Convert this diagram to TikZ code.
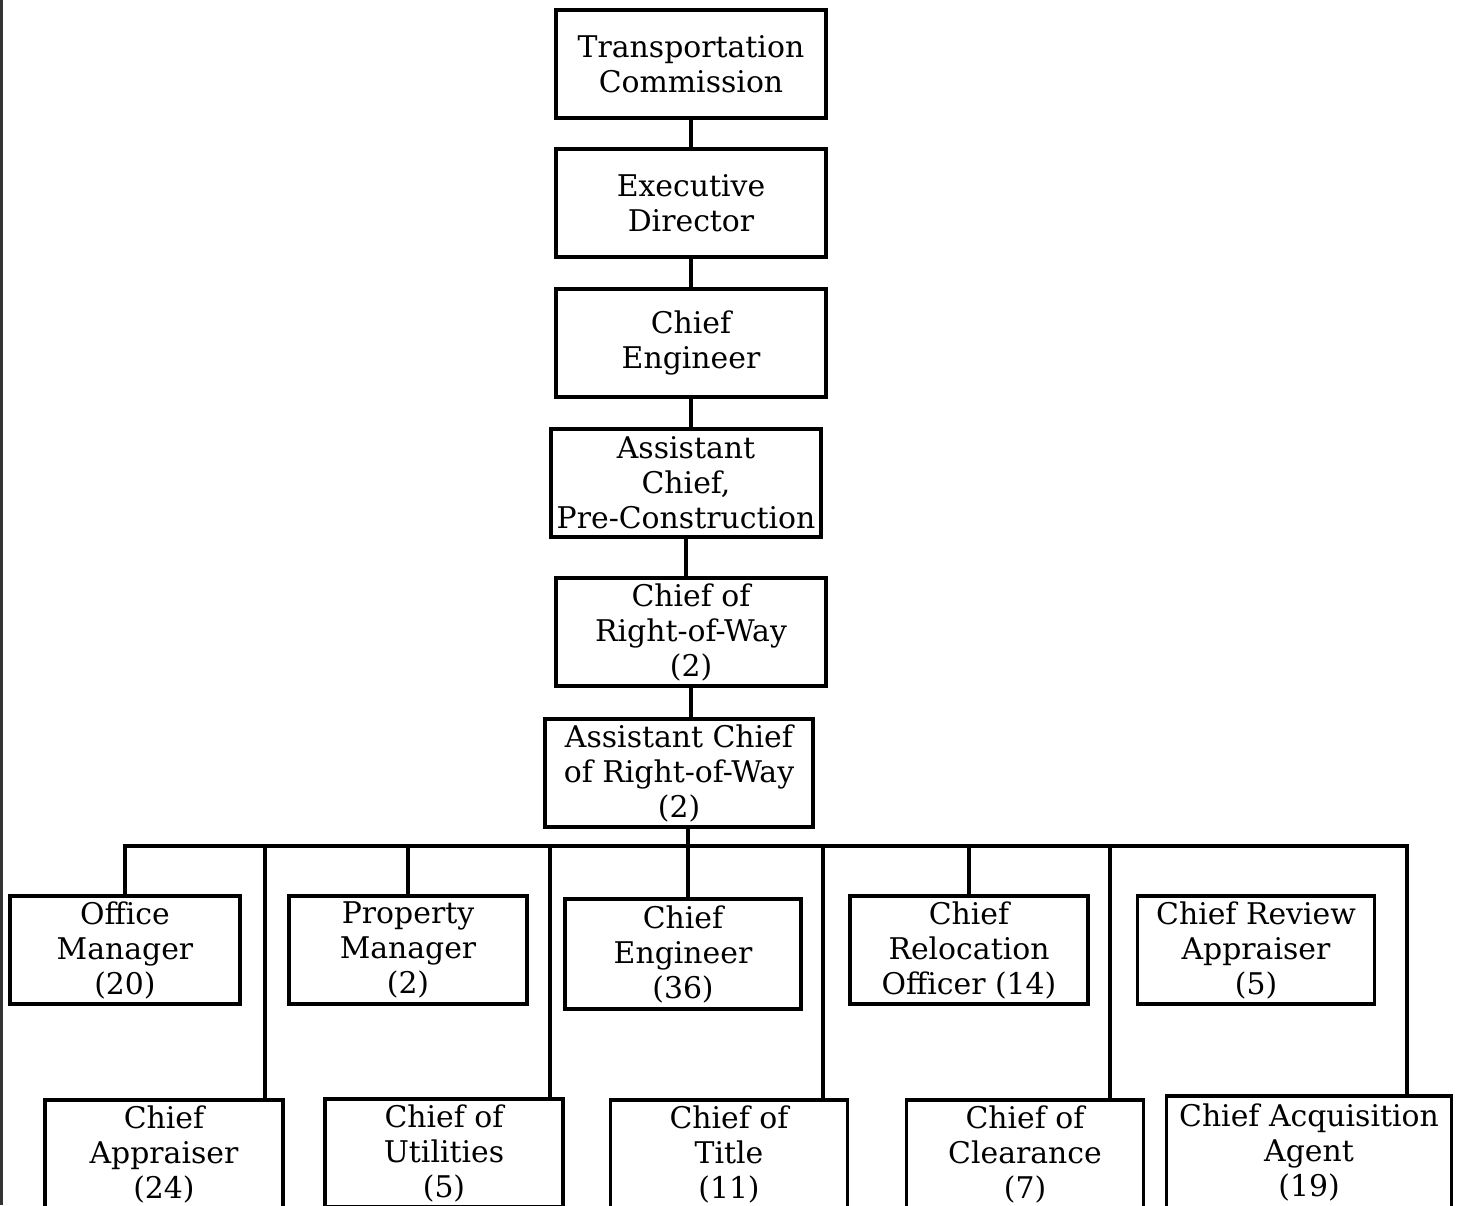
\documentclass[tikz,border=0pt]{standalone}
\usepackage{fontspec}
\setmainfont{DejaVu Serif}
\usepackage{tikz}

\tikzset{
  post/.style={draw, line width=2pt, align=center, inner sep=0pt,
    minimum width=5.4cm, minimum height=2.16cm,
    font=\fontsize{17}{19.9}\selectfont},
  link/.style={line width=2pt}
}

\begin{document}
\begin{tikzpicture}[x=0.02cm, y=-0.02cm]
    \useasboundingbox (0,0) rectangle (1459,1205);
    \clip (0,0) rectangle (1459,1205);

    % page edge
    \draw[line width=1.8pt, black!80] (1.5,0) -- (1.5,1205);

    % chain of command
    \node[post] (tc)  at (691,64)  {Transportation\\Commission};
    \node[post] (ed)  at (691,203) {Executive\\Director};
    \node[post] (ce)  at (691,343) {Chief\\Engineer};
    \node[post] (acp) at (686,483) {Assistant\\Chief,\\Pre-Construction};
    \node[post] (crw) at (691,632) {Chief of\\Right-of-Way\\(2)};
    \node[post, minimum width=5.36cm] (arw) at (679,773) {Assistant Chief\\of Right-of-Way\\(2)};

    \draw[link] (tc.south)  -- (tc.south |- ed.north);
    \draw[link] (ed.south)  -- (ed.south |- ce.north);
    \draw[link] (ce.south)  -- (ce.south |- acp.north);
    \draw[link] (acp.south) -- (acp.south |- crw.north);
    \draw[link] (crw.south) -- (crw.south |- arw.north);

    % upper row
    \node[post, minimum width=4.6cm]  (om)  at (125,950)  {Office\\Manager\\(20)};
    \node[post, minimum width=4.76cm] (pm)  at (408,950)  {Property\\Manager\\(2)};
    \node[post, minimum width=4.72cm, minimum height=2.2cm] (ce2) at (683,954) {Chief\\Engineer\\(36)};
    \node[post, minimum width=4.76cm] (cro) at (969,950)  {Chief\\Relocation\\Officer (14)};
    \node[post, minimum width=4.74cm] (cra) at (1256,950) {Chief Review\\Appraiser\\(5)};

    % lower row
    \node[post, minimum width=4.76cm] (ca)  at (164,1154)  {Chief\\Appraiser\\(24)};
    \node[post, minimum width=4.76cm] (cu)  at (444,1153)  {Chief of\\Utilities\\(5)};
    \node[post, minimum width=4.74cm] (ct)  at (729,1154)  {Chief of\\Title\\(11)};
    \node[post, minimum width=4.74cm] (cc)  at (1025,1154) {Chief of\\Clearance\\(7)};
    \node[post, minimum width=5.7cm, minimum height=2.24cm] (caa) at (1309,1152) {Chief Acquisition\\Agent\\(19)};

    % bus
    \coordinate (hub) at (688,846);
    \coordinate (d1) at (265,846);
    \coordinate (d2) at (550,846);
    \coordinate (d3) at (823,846);
    \coordinate (d4) at (1110,846);
    \coordinate (d5) at (1407,846);

    \draw[link] (om.north) |- (d5) -- (d5 |- caa.north);
    \draw[link] (hub |- arw.south) -- (hub |- ce2.north);
    \foreach \n in {pm,cro}
      \draw[link] (\n.north) -- (\n.north |- hub);
    \foreach \d/\n in {d1/ca,d2/cu,d3/ct,d4/cc}
      \draw[link] (\d) -- (\d |- \n.north);
  \end{tikzpicture}
\end{document}
